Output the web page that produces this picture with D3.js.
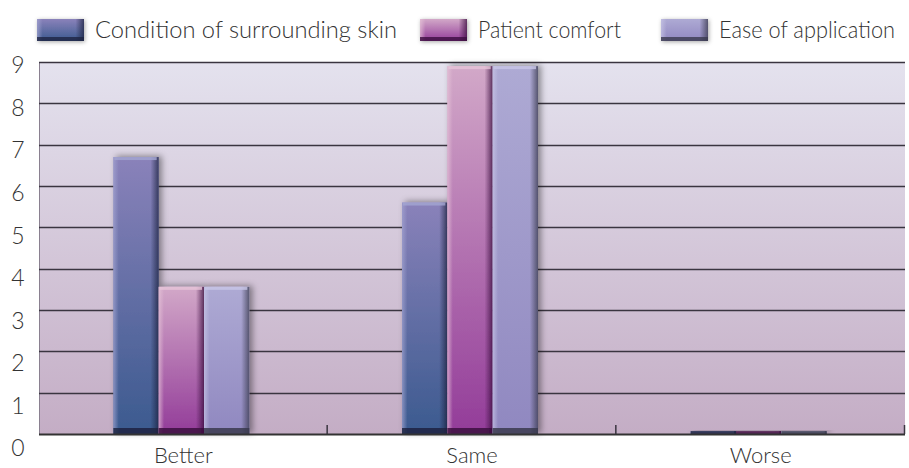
<!DOCTYPE html>
<html>
<head>
<meta charset="utf-8">
<script src="https://cdn.jsdelivr.net/npm/d3@7"></script>
<style>
  body { margin: 0; background: #fff; }
  text { font-family: Lato, "Open Sans", sans-serif; fill: #333; font-weight: 300; }
</style>
</head>
<body>
<svg id="chart" width="909" height="468"></svg>
<script>
// data
var categories = ["Better", "Same", "Worse"];
var seriesNames = ["Condition of surrounding skin", "Patient comfort", "Ease of application"];
var conditionValues = [6.7, 5.6, 0.07];
var comfortValues = [3.56, 8.9, 0.07];
var easeValues = [3.56, 8.9, 0.07];
var yTicks = [0, 1, 2, 3, 4, 5, 6, 7, 8, 9];

var seriesValues = [conditionValues, comfortValues, easeValues];

var layout = {left: 39, right: 905, top: 62, bottom: 434};

// colours for each series: top, bottom, edge highlight, dark edge
var palette = [
	{top: "#8a82ba", bottom: "#3b5a8f", light: "#a4a6d2", dark: "#1e2442"},
	{top: "#d2a8c8", bottom: "#933c99", light: "#e6c4d8", dark: "#3c0e40"},
	{top: "#aeaad4", bottom: "#9088c0", light: "#c8c6e6", dark: "#3a3a4e"}
];

var svg = d3.select("#chart");
var defs = svg.append("defs");

// background gradient of the plot
var bg = defs.append("linearGradient")
			.attr("id", "bg")
			.attr("x1", 0).attr("y1", 0).attr("x2", 0).attr("y2", 1);
bg.append("stop").attr("offset", "0%").attr("stop-color", "#e4e2ee");
bg.append("stop").attr("offset", "100%").attr("stop-color", "#c4adc5");

// per series gradients
palette.forEach(function(p, i){
	var g = defs.append("linearGradient")
				.attr("id", "fill" + i)
				.attr("x1", 0).attr("y1", 0).attr("x2", 0).attr("y2", 1);
	g.append("stop").attr("offset", "0%").attr("stop-color", p.top);
	g.append("stop").attr("offset", "100%").attr("stop-color", p.bottom);

	var h = defs.append("linearGradient")
				.attr("id", "side" + i)
				.attr("x1", 0).attr("y1", 0).attr("x2", 1).attr("y2", 0);
	h.append("stop").attr("offset", "0%").attr("stop-color", p.light).attr("stop-opacity", 0.7);
	h.append("stop").attr("offset", "12%").attr("stop-color", p.light).attr("stop-opacity", 0);
	h.append("stop").attr("offset", "82%").attr("stop-color", p.dark).attr("stop-opacity", 0);
	h.append("stop").attr("offset", "100%").attr("stop-color", p.dark).attr("stop-opacity", 0.75);
});

// soft shadow behind the bars
var shadow = defs.append("filter")
				.attr("id", "shadow")
				.attr("x", "-30%").attr("y", "-30%")
				.attr("width", "160%").attr("height", "160%");
shadow.append("feDropShadow")
		.attr("dx", 3).attr("dy", -1)
		.attr("stdDeviation", 3)
		.attr("flood-color", "#000")
		.attr("flood-opacity", 0.4);

var legShadow = defs.append("filter")
				.attr("id", "legshadow")
				.attr("x", "-30%").attr("y", "-50%")
				.attr("width", "160%").attr("height", "200%");
legShadow.append("feDropShadow")
		.attr("dx", 1).attr("dy", 1)
		.attr("stdDeviation", 2)
		.attr("flood-color", "#000")
		.attr("flood-opacity", 0.35);

// scales
var x0 = d3.scaleBand()
			.domain(categories)
			.range([layout.left, layout.right]);
var groupWidth = 136;
var x1 = d3.scaleBand()
			.domain(d3.range(seriesNames.length))
			.range([(x0.bandwidth() - groupWidth) / 2 - 2, (x0.bandwidth() + groupWidth) / 2 - 2]);
var yScale = d3.scaleLinear()
			.domain([0, 9])
			.range([layout.bottom, layout.top]);
// tick labels sit on a slightly wider spacing than the grid in the original
var yLabelScale = d3.scaleLinear()
			.domain([0, 9])
			.range([448, 65]);

// plot background
svg.append("rect")
	.attr("x", layout.left)
	.attr("y", layout.top)
	.attr("width", layout.right - layout.left)
	.attr("height", layout.bottom - layout.top)
	.attr("fill", "url(#bg)");

svg.append("line")
	.attr("x1", layout.left + 0.5).attr("x2", layout.left + 0.5)
	.attr("y1", layout.top).attr("y2", layout.bottom)
	.attr("stroke", "#8a8090").attr("stroke-width", 1);

// grid lines
svg.append("g")
	.selectAll("line")
	.data(yTicks.slice(1))
	.enter().append("line")
	.attr("x1", layout.left)
	.attr("x2", layout.right)
	.attr("y1", function(d){ return Math.round(yScale(d)) + 0.5; })
	.attr("y2", function(d){ return Math.round(yScale(d)) + 0.5; })
	.attr("stroke", "#3a3540")
	.attr("stroke-width", 1.4);

// y labels
svg.append("g")
	.selectAll("text")
	.data(yTicks)
	.enter().append("text")
	.attr("x", 18)
	.attr("y", function(d){ return yLabelScale(d); })
	.attr("dy", "0.36em")
	.attr("text-anchor", "middle")
	.attr("font-size", 23)
	.text(function(d){ return d; });

// bars
var groups = svg.append("g")
			.selectAll("g")
			.data(categories)
			.enter().append("g")
			.attr("transform", function(d){ return "translate(" + x0(d) + ",0)"; });

var bars = groups.selectAll("g")
			.data(function(d, ci){
				return seriesValues.map(function(vals, si){
					return {series: si, value: vals[ci]};
				});
			})
			.enter().append("g")
			.attr("filter", "url(#shadow)");

bars.each(function(d){
	var g = d3.select(this);
	var bx = x1(d.series);
	var bw = x1.bandwidth();
	var by = yScale(d.value);
	var bh = layout.bottom - by;
	var p = palette[d.series];

	g.append("rect")
		.attr("x", bx).attr("y", by)
		.attr("width", bw).attr("height", bh)
		.attr("fill", "url(#fill" + d.series + ")");
	g.append("rect")
		.attr("x", bx).attr("y", by)
		.attr("width", bw).attr("height", bh)
		.attr("fill", "url(#side" + d.series + ")");
	// top bevel
	g.append("rect")
		.attr("x", bx + 1).attr("y", by)
		.attr("width", bw - 3).attr("height", Math.min(3, bh))
		.attr("fill", p.light)
		.attr("opacity", 0.8);
	// bottom dark strip
	g.append("rect")
		.attr("x", bx).attr("y", layout.bottom - Math.min(6, bh))
		.attr("width", bw).attr("height", Math.min(6, bh))
		.attr("fill", p.dark)
		.attr("opacity", 0.85);
});

// x axis line and category ticks
svg.append("line")
	.attr("x1", layout.left).attr("x2", layout.right)
	.attr("y1", layout.bottom + 0.5).attr("y2", layout.bottom + 0.5)
	.attr("stroke", "#333").attr("stroke-width", 2);

svg.append("g")
	.selectAll("line")
	.data(categories)
	.enter().append("line")
	.attr("x1", function(d){ return x0(d) + x0.step() - 0.5; })
	.attr("x2", function(d){ return x0(d) + x0.step() - 0.5; })
	.attr("y1", layout.bottom - 9)
	.attr("y2", layout.bottom)
	.attr("stroke", "#3a3540")
	.attr("stroke-width", 1.5);

svg.append("g")
	.selectAll("text")
	.data(categories)
	.enter().append("text")
	.attr("x", function(d){ return x0(d) + x0.bandwidth() / 2; })
	.attr("y", 463)
	.attr("text-anchor", "middle")
	.attr("font-size", 22)
	.text(function(d){ return d; });

// legend
var legendX = [37, 420, 661];
var legendTextWidth = [302, 143, 176];
var legend = svg.append("g")
			.selectAll("g")
			.data(seriesNames)
			.enter().append("g")
			.attr("transform", function(d, i){ return "translate(" + legendX[i] + ",19)"; });

legend.append("rect")
	.attr("width", 47).attr("height", 22)
	.attr("fill", function(d, i){ return "url(#fill" + i + ")"; })
	.attr("filter", "url(#legshadow)");
legend.append("rect")
	.attr("width", 47).attr("height", 22)
	.attr("fill", function(d, i){ return "url(#side" + i + ")"; });
legend.append("rect")
	.attr("y", 18).attr("width", 47).attr("height", 4)
	.attr("fill", function(d, i){ return palette[i].dark; })
	.attr("opacity", 0.8);

legend.append("text")
	.attr("x", 58)
	.attr("y", 19)
	.attr("font-size", 24)
	.text(function(d){ return d; })
	.each(function(d, i){
		// squeeze to the width the original text takes
		if (this.getComputedTextLength() > legendTextWidth[i]) {
			d3.select(this)
				.attr("textLength", legendTextWidth[i])
				.attr("lengthAdjust", "spacingAndGlyphs");
		}
	});
</script>
</body>
</html>
